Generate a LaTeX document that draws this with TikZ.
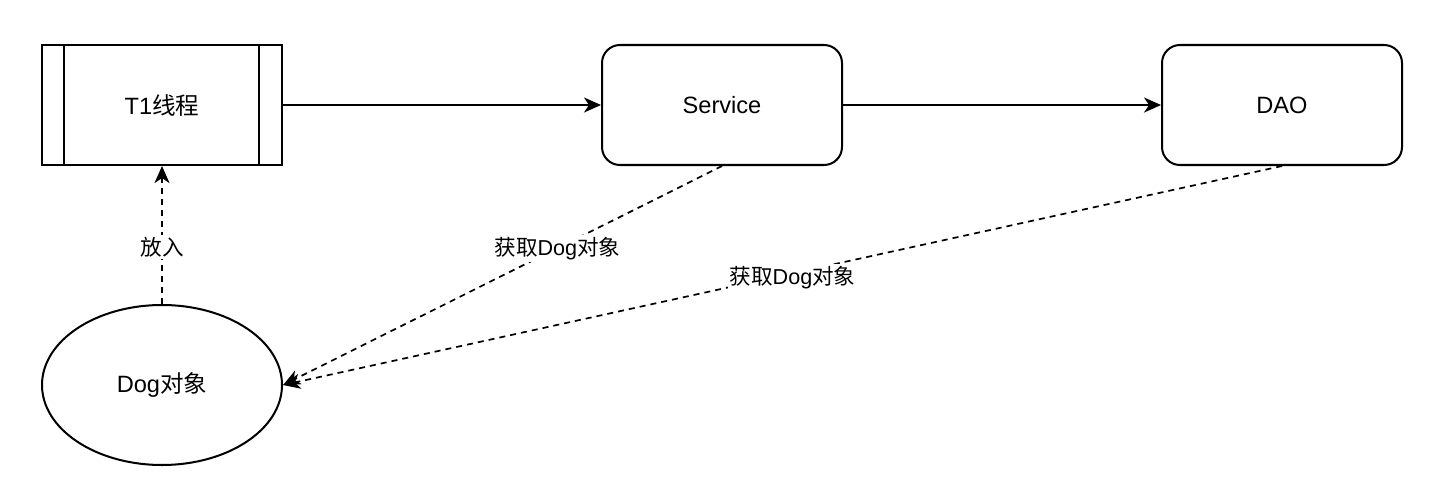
\documentclass[tikz,border=0pt]{standalone}
\usepackage{fontspec}
\setmainfont{Liberation Sans}
\newfontfamily\zhfont{Noto Sans CJK SC}
\newcommand{\zh}[1]{{\zhfont #1}}
\usetikzlibrary{arrows.meta,shapes.geometric}

\begin{document}
\begin{tikzpicture}[scale=0.35]
          \tikzstyle{every node}+=[inner sep=0pt,font=\fontsize{23.5}{28}\selectfont]
          \tikzstyle{box}=[draw=black,line width=2pt,minimum width=8.4cm,minimum height=4.2cm]
          \tikzstyle{rbox}=[box,rounded corners=0.63cm]
          \tikzstyle{edge}=[draw=black,line width=1.7pt,-{Stealth[length=17pt,width=15pt,inset=5pt]}]
          \tikzstyle{dedge}=[edge,dash pattern=on 6pt off 5pt]
          \tikzstyle{lbl}=[fill=white,inner sep=2pt,font=\fontsize{21.5}{26}\selectfont]
          \useasboundingbox (0,0) rectangle (144,-48.5);
          \draw (16.2,-10.5) node [box] (t1) {T1\zh{线程}};
          \draw [black,line width=2pt] ([xshift=2.3cm]t1.north west) -- ([xshift=2.3cm]t1.south west);
          \draw [black,line width=2pt] ([xshift=-2.4cm]t1.north east) -- ([xshift=-2.4cm]t1.south east);
          \draw (72.2,-10.5) node [rbox] (service) {Service};
          \draw (128.2,-10.5) node [rbox] (dao) {DAO};
          \draw (16.2,-38.5) node [box,ellipse,minimum height=5.6cm] (dog) {Dog\zh{对象}};
          \draw [edge] (t1.east) -- (service.west);
          \draw [edge] (service.east) -- (dao.west);
          \draw [dedge] (dog.north) -- (t1.south) node [lbl,pos=0.41] {\zh{放入}};
          \draw [dedge] (service.south) -- (dog.east) node [lbl,pos=0.375] {\zh{获取}Dog\zh{对象}};
          \draw [dedge] (dao.south) -- (dog.east) node [lbl,pos=0.49,yshift=-0.15cm] {\zh{获取}Dog\zh{对象}};
          \end{tikzpicture}
\end{document}
